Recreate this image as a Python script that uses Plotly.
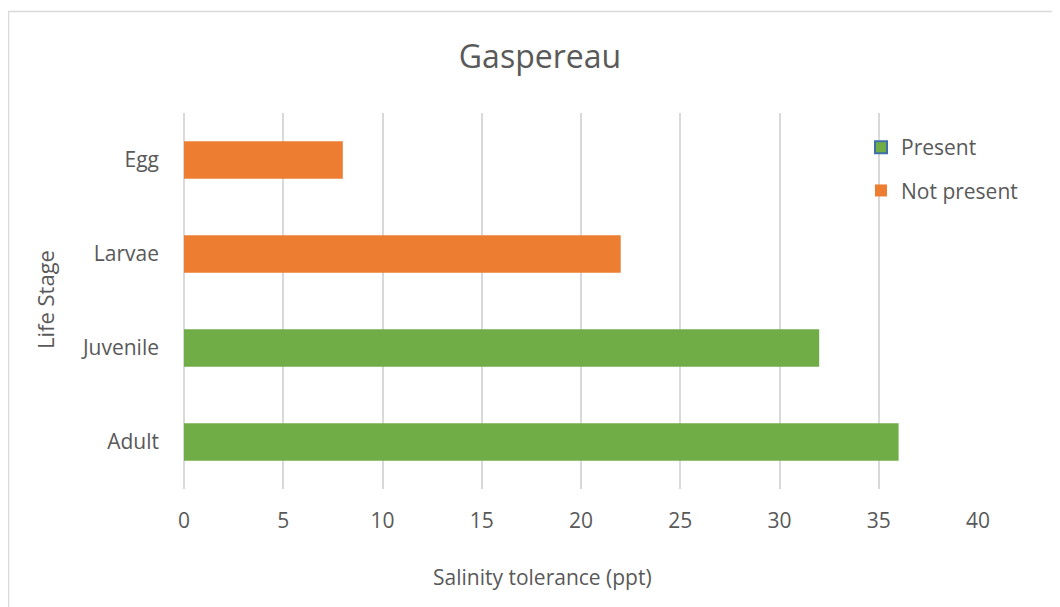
import plotly.graph_objects as go

# ---- data ----
stages = ["Egg", "Larvae", "Juvenile", "Adult"]
tolerance = [8, 22, 32, 36]
present = [False, False, True, True]
x_ticks = [0, 5, 10, 15, 20, 25, 30, 35, 40]

GREEN = "#70AD47"
ORANGE = "#ED7D31"
TEXT = "#595959"
GRID = "#D9D9D9"
FONT = "Open Sans"

# the page body has an 8px margin; positions below are page pixels
OFF = 8
W, H = 1060, 607
PL, PR, PT, PB = 184, 978, 113, 489   # plot area in page pixels
L, T = PL - OFF, PT - OFF
R = W - (PR - OFF)
B = H - (PB - OFF)
pw, ph = PR - PL, PB - PT

def px_to_paper_x(px):
    return (px - PL) / pw

def px_to_paper_y(py):
    return (PB - py) / ph

fig = go.Figure()

p_y = [s for s, p in zip(stages, present) if p]
p_x = [v for v, p in zip(tolerance, present) if p]
n_y = [s for s, p in zip(stages, present) if not p]
n_x = [v for v, p in zip(tolerance, present) if not p]

fig.add_trace(go.Bar(y=p_y, x=p_x, orientation="h", name="Present",
                     marker=dict(color=GREEN, line=dict(width=0)),
                     width=0.4, showlegend=False))
fig.add_trace(go.Bar(y=n_y, x=n_x, orientation="h", name="Not present",
                     marker=dict(color=ORANGE, line=dict(width=0)),
                     width=0.4, showlegend=False))
# legend entries (Present swatch has a blue outline in the original)
fig.add_trace(go.Bar(y=[None], x=[None], orientation="h", name="Present",
                     marker=dict(color=GREEN, line=dict(color="#3F6FA8", width=2)),
                     legendgroup="a", showlegend=True))
fig.add_trace(go.Bar(y=[None], x=[None], orientation="h", name="Not present",
                     marker=dict(color=ORANGE, line=dict(width=0)),
                     legendgroup="b", showlegend=True))

fig.update_layout(
    width=W, height=H,
    margin=dict(l=L, r=R, t=T, b=B, pad=0),
    paper_bgcolor="white", plot_bgcolor="white",
    barmode="overlay",
    font=dict(family=FONT, color=TEXT, size=21),
    title=dict(text="Gaspereau", x=(540 - OFF) / W, xref="container", xanchor="center",
               y=1 - (57 - OFF) / H, yref="container", yanchor="middle",
               font=dict(family=FONT, size=32, color=TEXT)),
    xaxis=dict(range=[0, 40], tickvals=x_ticks, ticktext=[str(v) for v in x_ticks],
               showgrid=True, gridcolor=GRID, gridwidth=2,
               zeroline=True, zerolinecolor=GRID, zerolinewidth=2,
               showline=False, ticks="", ticklabelstandoff=17,
               tickfont=dict(size=21, color=TEXT), fixedrange=True),
    yaxis=dict(categoryorder="array", categoryarray=stages, autorange="reversed",
               showgrid=False, zeroline=False, showline=False, ticks="",
               ticklabelstandoff=24, tickfont=dict(size=21, color=TEXT)),
    legend=dict(x=px_to_paper_x(861), y=px_to_paper_y(127), xanchor="left", yanchor="top",
                bgcolor="rgba(0,0,0,0)", font=dict(size=21, color=TEXT),
                tracegroupgap=13, traceorder="grouped", itemclick=False),
    showlegend=True,
)

# axis titles
fig.add_annotation(text="Salinity tolerance (ppt)", xref="paper", yref="paper",
                   x=px_to_paper_x(542), y=px_to_paper_y(577), showarrow=False,
                   xanchor="center", yanchor="middle",
                   font=dict(family=FONT, size=21, color=TEXT))
fig.add_annotation(text="Life Stage", xref="paper", yref="paper",
                   x=px_to_paper_x(45), y=px_to_paper_y(300), showarrow=False, textangle=-90,
                   xanchor="center", yanchor="middle",
                   font=dict(family=FONT, size=22, color=TEXT))

# chart border
fig.add_shape(type="rect", xref="paper", yref="paper",
              x0=px_to_paper_x(8.5), x1=px_to_paper_x(1090),
              y0=px_to_paper_y(660), y1=px_to_paper_y(11.5),
              line=dict(color=GRID, width=1.5), fillcolor="rgba(0,0,0,0)", layer="below")

fig.write_html("out.html")
